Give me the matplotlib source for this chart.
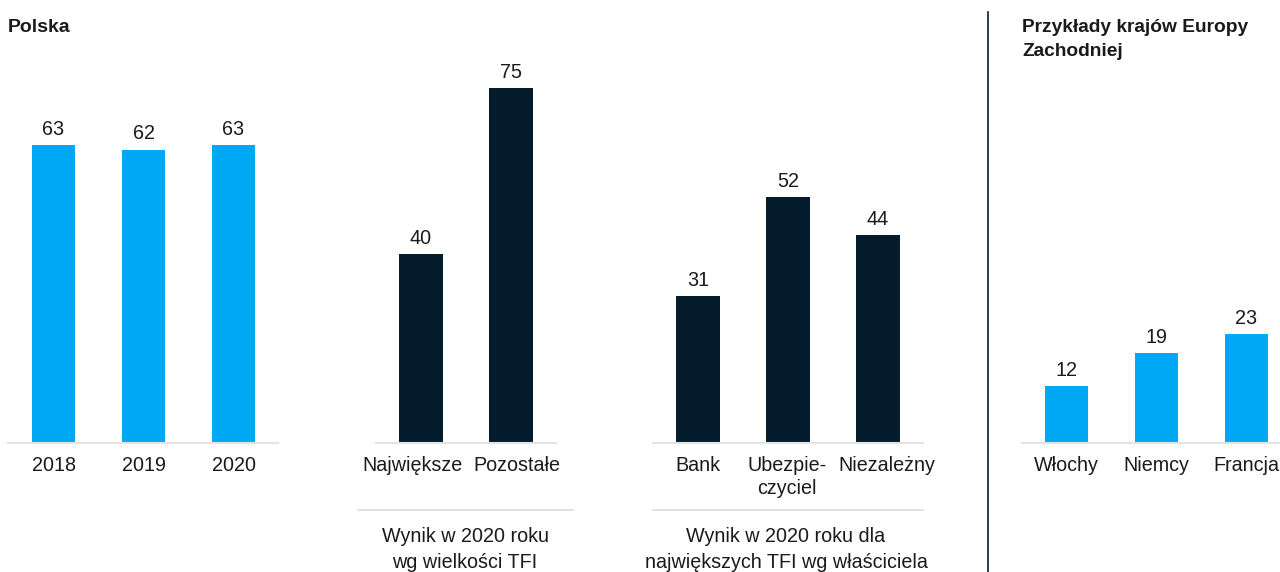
import matplotlib.pyplot as plt
from matplotlib.lines import Line2D
from matplotlib.transforms import ScaledTranslation

plt.rcParams['font.family'] = ['Liberation Sans', 'DejaVu Sans']

BLUE = '#00A9F4'
NAVY = '#051C2C'
TEXT = '#1a1a1a'
GRID = '#e3e3e3'
FS = 14.2

# data
years = ['2018', '2019', '2020']
poland = [63, 62, 63]
size_cats = ['Największe', 'Pozostałe']
size_vals = [40, 75]
owner_cats = ['Bank', 'Ubezpie-\nczyciel', 'Niezależny']
owner_vals = [31, 52, 44]
west_cats = ['Włochy', 'Niemcy', 'Francja']
west_vals = [12, 19, 23]

W, H = 1280, 572
fig = plt.figure(figsize=(W / 100, H / 100), dpi=100)

base_px = 443      # baseline y (pixels from top)
px_per_unit = 4.73
ymax = 90


def make_ax(x0, x1, xlim):
    h = ymax * px_per_unit
    ax = fig.add_axes([x0 / W, (H - base_px) / H, (x1 - x0) / W, h / H])
    ax.set_xlim(*xlim)
    ax.set_ylim(0, ymax)
    for s in ['top', 'left', 'right']:
        ax.spines[s].set_visible(False)
    ax.spines['bottom'].set_color(GRID)
    ax.spines['bottom'].set_linewidth(1.5)
    ax.set_yticks([])
    ax.tick_params(axis='x', length=0, pad=9.5, labelsize=FS, labelcolor=TEXT)
    ax.patch.set_alpha(0)
    return ax


def draw(ax, cats, vals, color, shifts=None):
    x = range(len(cats))
    bars = ax.bar(x, vals, width=0.478, color=color)
    ax.set_xticks(list(x))
    labels = ax.set_xticklabels(cats, va='top', linespacing=1.25)
    if shifts:
        # nudge crowded labels sideways (pixels)
        for lab, dx in zip(labels, shifts):
            lab.set_transform(lab.get_transform() +
                              ScaledTranslation(dx / 100, 0, fig.dpi_scale_trans))
    ax.bar_label(bars, padding=4.5, fontsize=FS, color=TEXT)


ax1 = make_ax(8, 278, (-0.506, 2.494))
draw(ax1, years, poland, BLUE)

ax2 = make_ax(376, 556, (-0.5, 1.5))
draw(ax2, size_cats, size_vals, NAVY, shifts=[-9, 6])

ax3 = make_ax(653, 923, (-0.5, 2.5))
draw(ax3, owner_cats, owner_vals, NAVY, shifts=[0, -1, 9])

ax4 = make_ax(1022, 1280, (-0.494, 2.372))
draw(ax4, west_cats, west_vals, BLUE)


def fx(px):
    return px / W


def fy(py):
    return 1 - py / H


# titles
fig.text(fx(8), fy(27), 'Polska', fontsize=14, fontweight='bold', color=TEXT,
         ha='left', va='center')
fig.text(fx(1022), fy(27), 'Przykłady krajów Europy', fontsize=13.8,
         fontweight='bold', color=TEXT, ha='left', va='center')
fig.text(fx(1022), fy(52), 'Zachodniej', fontsize=13.8,
         fontweight='bold', color=TEXT, ha='left', va='center')

# separators and captions under middle groups
fig.add_artist(Line2D([fx(358), fx(573)], [fy(510), fy(510)], color=GRID, lw=1.5))
fig.add_artist(Line2D([fx(653), fx(923)], [fy(510), fy(510)], color=GRID, lw=1.5))
fig.text(fx(465), fy(537), 'Wynik w 2020 roku', fontsize=FS,
         color=TEXT, ha='center', va='center')
fig.text(fx(465), fy(562), 'wg wielkości TFI', fontsize=FS,
         color=TEXT, ha='center', va='center')
fig.text(fx(786), fy(537), 'Wynik w 2020 roku dla', fontsize=FS,
         color=TEXT, ha='center', va='center')
fig.text(fx(786), fy(562), 'największych TFI wg właściciela', fontsize=FS,
         color=TEXT, ha='center', va='center')

# vertical divider
fig.add_artist(Line2D([fx(988), fx(988)], [fy(12), fy(572)], color=NAVY, lw=1.2))

fig.savefig('out.png', dpi=100)
